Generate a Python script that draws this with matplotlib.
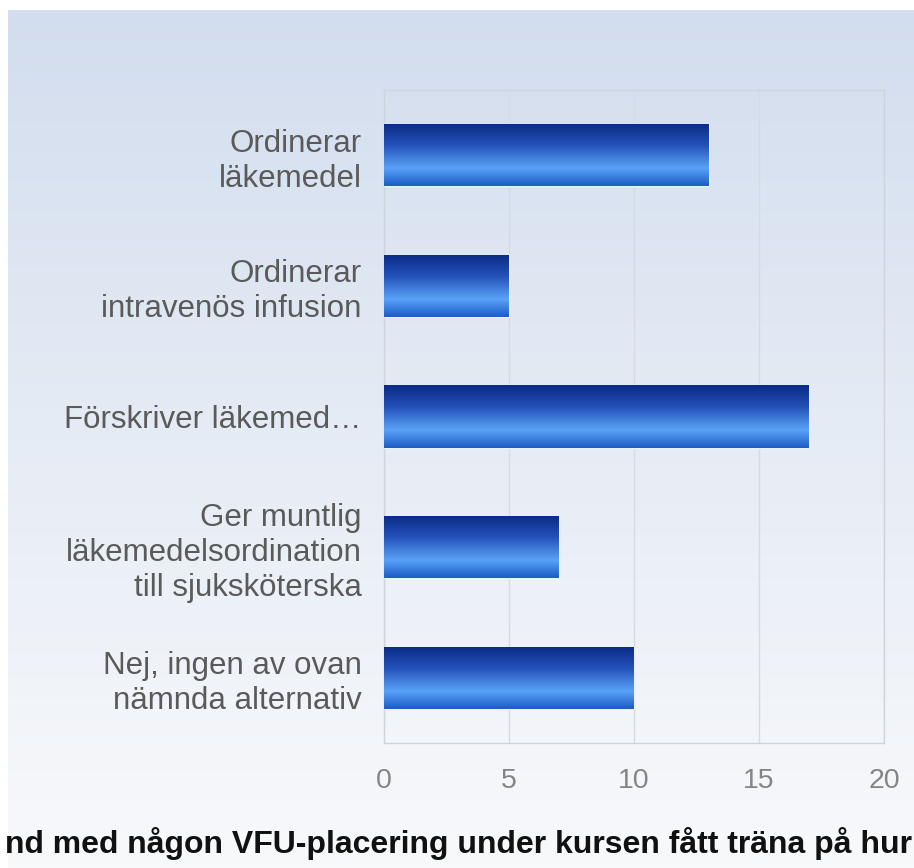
import numpy as np
import matplotlib.pyplot as plt
from matplotlib.colors import LinearSegmentedColormap

categories = [
    "Ordinerar\nläkemedel",
    "Ordinerar\nintravenös infusion",
    "Förskriver läkemed…",
    "Ger muntlig\nläkemedelsordination\ntill sjuksköterska",
    "Nej, ingen av ovan\nnämnda alternativ",
]
counts = [13, 5, 17, 7, 10]
x_ticks = [0, 5, 10, 15, 20]
footer = "nd med någon VFU-placering under kursen fått träna på hur"

plt.rcParams.update({
    "font.family": ["Liberation Sans", "DejaVu Sans"],
})

fig = plt.figure(figsize=(9.14, 8.68), dpi=100)
fig.patch.set_facecolor("white")

# background gradient panel
bg = fig.add_axes([8 / 914, 0, 1 - 8 / 914, 1 - 10 / 868], zorder=0)
bg_cmap = LinearSegmentedColormap.from_list("bg", ["#d2ddee", "#e6ecf5", "#f8f9fb"])
bg.imshow(np.linspace(0, 1, 256).reshape(-1, 1), aspect="auto", cmap=bg_cmap,
          extent=[0, 1, 0, 1], origin="upper")
bg.set_axis_off()

ax = fig.add_axes([384 / 914, 1 - 743 / 868, 500 / 914, 653 / 868], zorder=1)
ax.patch.set_alpha(0)

y = np.arange(len(categories))
bars = ax.barh(y, counts, height=0.475, color="#2a62c8",
               edgecolor="#e8f4ff", linewidth=1.0, zorder=3)

bar_cmap = LinearSegmentedColormap.from_list(
    "bar", [(0, "#0a2a86"), (0.35, "#2452b8"), (0.72, "#5aa2f8"), (1, "#1c5cc4")])
grad = np.linspace(0, 1, 128).reshape(-1, 1)
for b in bars:
    x0, y0 = b.get_x(), b.get_y()
    w, h = b.get_width(), b.get_height()
    im = ax.imshow(grad, aspect="auto", cmap=bar_cmap,
                   extent=[x0, x0 + w, y0 + h, y0], origin="upper", zorder=3.5)
    im.set_clip_path(b)

ax.set_xlim(0, 20)
ax.set_ylim(len(categories) - 0.5, -0.5)
ax.set_xticks(x_ticks)
ax.set_xticklabels([str(t) for t in x_ticks], fontsize=20.5, color="#858585")
ax.set_yticks(y)
ax.set_yticklabels(categories, fontsize=22.5, color="#5a5a5a", linespacing=1.22)
ax.tick_params(axis="both", length=0)
ax.tick_params(axis="x", pad=18)
ax.tick_params(axis="y", pad=16)
ax.grid(axis="x", color="#d6dbe2", linewidth=1.0, zorder=1)
for s in ax.spines.values():
    s.set_color("#cfd4dc")
    s.set_linewidth(1.0)

fig.text(5 / 914, 1 - 843 / 868, footer, fontsize=23, fontweight="bold",
         color="#111111", ha="left", va="center")

fig.savefig("out.png", dpi=100)
